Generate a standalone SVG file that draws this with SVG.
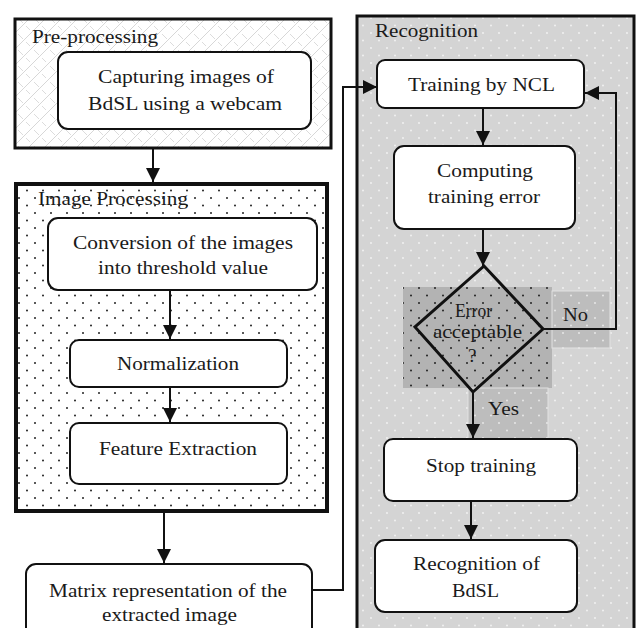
<svg xmlns="http://www.w3.org/2000/svg" width="638" height="628" viewBox="0 0 638 628" font-family="'Liberation Serif', 'DejaVu Serif', serif" font-size="19">
  <style>
    text { fill: #1a1a1a; }
    .node { fill: #ffffff; stroke: #111; stroke-width: 2; }
    .edge { fill: none; stroke: #111; stroke-width: 2; }
  </style>
  <defs>
    <!-- light criss-cross hatch for the pre-processing stage -->
    <pattern id="hatch" width="16" height="16" patternUnits="userSpaceOnUse">
      <rect width="16" height="16" fill="#fff"/>
      <path d="M0,16 L16,0 M-4,4 L4,-4 M12,20 L20,12" stroke="#d2d2d2" stroke-width="0.9"/>
      <path d="M2,2 L7,7 M10,10 L14,14" stroke="#d8d8d8" stroke-width="0.9"/>
    </pattern>
    <!-- black dots on white -->
    <pattern id="dotsW" width="16" height="15" patternUnits="userSpaceOnUse">
      <rect width="16" height="15" fill="#fff"/>
      <circle cx="3" cy="3" r="1" fill="#222"/>
      <circle cx="11" cy="10.5" r="1" fill="#222"/>
    </pattern>
    <!-- white dots on light gray -->
    <pattern id="dotsG" width="16" height="15" patternUnits="userSpaceOnUse">
      <rect width="16" height="15" fill="#d4d4d4"/>
      <circle cx="3" cy="3" r="0.9" fill="#f4f4f4"/>
      <circle cx="11" cy="10.5" r="0.9" fill="#f4f4f4"/>
    </pattern>
    <!-- black dots on mid gray -->
    <pattern id="dotsD" width="16" height="15" patternUnits="userSpaceOnUse">
      <rect width="16" height="15" fill="#b3b3b3"/>
      <circle cx="3" cy="3" r="1" fill="#222"/>
      <circle cx="11" cy="10.5" r="1" fill="#222"/>
    </pattern>
    <!-- white dots on mid gray -->
    <pattern id="dotsM" width="16" height="15" patternUnits="userSpaceOnUse">
      <rect width="16" height="15" fill="#bdbdbd"/>
      <circle cx="3" cy="3" r="0.9" fill="#ececec"/>
      <circle cx="11" cy="10.5" r="0.9" fill="#ececec"/>
    </pattern>
    <marker id="arrow" markerUnits="userSpaceOnUse" markerWidth="14" markerHeight="14" viewBox="0 0 14 14" refX="14" refY="7" orient="auto">
      <path d="M0,0 L14,7 L0,14 Z" fill="#111"/>
    </marker>
  </defs>

  <rect width="638" height="628" fill="#fff"/>

  <!-- stage containers -->
  <g id="stage-preprocessing">
    <rect x="15" y="19" width="316" height="129" fill="url(#hatch)" stroke="#111" stroke-width="3"/>
    <text x="32" y="43" textLength="126" lengthAdjust="spacingAndGlyphs">Pre-processing</text>
  </g>

  <g id="stage-image-processing">
    <rect x="16" y="184" width="311" height="327" fill="url(#dotsW)" stroke="#111" stroke-width="4"/>
    <text x="38" y="205" textLength="150" lengthAdjust="spacingAndGlyphs">Image Processing</text>
  </g>

  <g id="stage-recognition">
    <rect x="357" y="16" width="277" height="630" fill="url(#dotsG)" stroke="#111" stroke-width="3"/>
    <text x="375" y="37" textLength="103" lengthAdjust="spacingAndGlyphs">Recognition</text>
    <!-- shaded label areas around the decision -->
    <rect x="403" y="287" width="149" height="101" fill="url(#dotsD)"/>
    <rect x="552" y="291" width="58" height="57" fill="url(#dotsM)" stroke="#e2e2e2" stroke-width="1"/>
    <rect x="468" y="388" width="80" height="60" fill="url(#dotsM)" stroke="#e2e2e2" stroke-width="1"/>
  </g>

  <!-- connectors -->
  <g id="connectors">
    <line class="edge" x1="153" y1="149" x2="153" y2="182" marker-end="url(#arrow)"/>
    <line class="edge" x1="170" y1="290" x2="170" y2="339" marker-end="url(#arrow)"/>
    <line class="edge" x1="170" y1="387" x2="170" y2="422" marker-end="url(#arrow)"/>
    <line class="edge" x1="164" y1="513" x2="164" y2="563" marker-end="url(#arrow)"/>
    <polyline class="edge" points="312,590 343,590 343,87 377,87" marker-end="url(#arrow)"/>
    <line class="edge" x1="483" y1="108" x2="483" y2="145" marker-end="url(#arrow)"/>
    <line class="edge" x1="483" y1="229" x2="483" y2="266" marker-end="url(#arrow)"/>
    <polyline class="edge" points="543,329 616,329 616,93 585,93" marker-end="url(#arrow)"/>
    <line class="edge" x1="473" y1="392" x2="473" y2="438" marker-end="url(#arrow)"/>
    <line class="edge" x1="471" y1="501" x2="471" y2="539" marker-end="url(#arrow)"/>
  </g>

  <!-- nodes -->
  <g id="capture">
    <rect class="node" x="58" y="52" width="253" height="77" rx="10"/>
    <text x="98" y="83" textLength="176" lengthAdjust="spacingAndGlyphs">Capturing images of</text>
    <text x="88" y="110" textLength="194" lengthAdjust="spacingAndGlyphs">BdSL using a webcam</text>
  </g>

  <g id="threshold">
    <rect class="node" x="48" y="218" width="269" height="72" rx="10"/>
    <text x="73" y="249" textLength="220" lengthAdjust="spacingAndGlyphs">Conversion of the images</text>
    <text x="98" y="274" textLength="170" lengthAdjust="spacingAndGlyphs">into threshold value</text>
  </g>

  <g id="normalization">
    <rect class="node" x="70" y="340" width="217" height="47" rx="9"/>
    <text x="117" y="370" textLength="122" lengthAdjust="spacingAndGlyphs">Normalization</text>
  </g>

  <g id="features">
    <rect class="node" x="70" y="423" width="217" height="61" rx="9"/>
    <text x="99" y="455" textLength="158" lengthAdjust="spacingAndGlyphs">Feature Extraction</text>
  </g>

  <g id="matrix">
    <rect class="node" x="26" y="564" width="286" height="80" rx="10"/>
    <text x="49" y="597" textLength="238" lengthAdjust="spacingAndGlyphs">Matrix representation of the</text>
    <text x="102" y="621" textLength="135" lengthAdjust="spacingAndGlyphs">extracted image</text>
  </g>

  <g id="training">
    <rect class="node" x="377" y="60" width="207" height="48" rx="8"/>
    <text x="408" y="91" textLength="147" lengthAdjust="spacingAndGlyphs">Training by NCL</text>
  </g>

  <g id="computing">
    <rect class="node" x="394" y="146" width="181" height="83" rx="10"/>
    <text x="437" y="177" textLength="96" lengthAdjust="spacingAndGlyphs">Computing</text>
    <text x="428" y="203" textLength="112" lengthAdjust="spacingAndGlyphs">training error</text>
  </g>

  <g id="decision">
    <polygon points="484,266 543,329 473,392 415,327" fill="none" stroke="#111" stroke-width="3" stroke-linejoin="miter"/>
    <text x="455" y="317" textLength="37" lengthAdjust="spacingAndGlyphs">Error</text>
    <text x="433" y="338" textLength="89" lengthAdjust="spacingAndGlyphs">acceptable</text>
    <text x="468" y="362">?</text>
    <text x="563" y="321" textLength="25" lengthAdjust="spacingAndGlyphs">No</text>
    <text x="488" y="415" textLength="31" lengthAdjust="spacingAndGlyphs">Yes</text>
  </g>

  <g id="stop">
    <rect class="node" x="384" y="439" width="193" height="62" rx="9"/>
    <text x="426" y="472" textLength="110" lengthAdjust="spacingAndGlyphs">Stop training</text>
  </g>

  <g id="recognize">
    <rect class="node" x="375" y="540" width="202" height="72" rx="10"/>
    <text x="413" y="570" textLength="127" lengthAdjust="spacingAndGlyphs">Recognition of</text>
    <text x="452" y="597" textLength="47" lengthAdjust="spacingAndGlyphs">BdSL</text>
  </g>
</svg>
